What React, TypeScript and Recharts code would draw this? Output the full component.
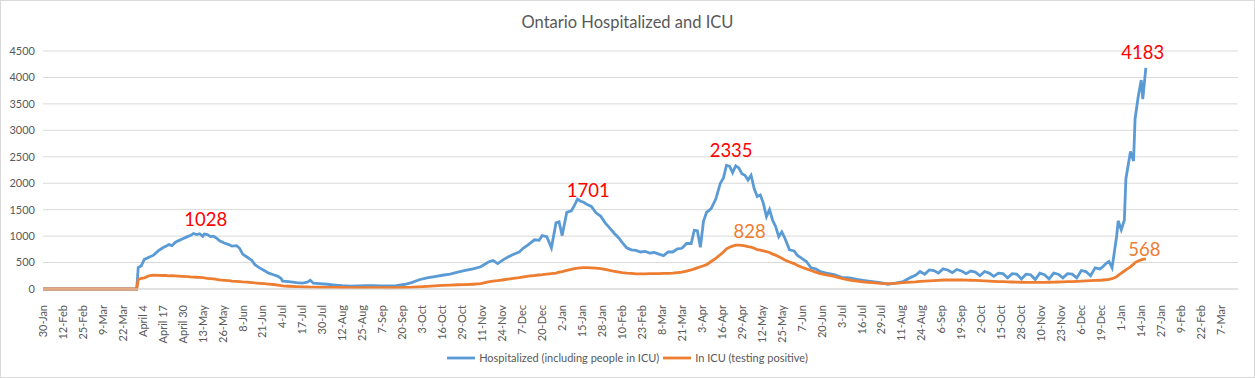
import React from 'react';
import { LineChart, Line, XAxis, YAxis, CartesianGrid, ReferenceDot } from 'recharts';

// Day index: 0 = 30-Jan-2020
const dayIndex = [
  0, 61, 62, 64, 66, 69, 72, 75, 78, 80, 82, 84, 86, 88, 91, 94, 96, 98, 100, 102,
  104, 105, 107, 109, 111, 113, 115, 118, 121, 123, 126, 128, 130, 133, 136, 138, 141, 144, 147, 150,
  153, 155, 156, 160, 165, 169, 172, 174, 176, 180, 185, 190, 195, 200, 205, 210, 215, 220, 225, 230,
  235, 240, 245, 250, 255, 260, 265, 270, 275, 280, 285, 290, 293, 296, 300, 305, 310, 313, 316, 320,
  323, 325, 328, 331, 334, 336, 338, 341, 344, 346, 348, 350, 352, 354, 357, 360, 363, 366, 369, 372,
  375, 377, 380, 383, 386, 389, 392, 395, 398, 401, 404, 407, 410, 413, 416, 419, 422, 424, 426, 428,
  430, 432, 435, 438, 441, 443, 445, 447, 449, 451, 453, 455, 457, 459, 461, 463, 465, 467, 469, 471,
  473, 475, 477, 479, 481, 483, 486, 489, 491, 494, 497, 500, 503, 506, 510, 515, 520, 525, 530, 535,
  540, 545, 550, 555, 560, 565, 568, 571, 574, 577, 580, 583, 586, 589, 592, 595, 598, 601, 604, 607,
  610, 613, 616, 619, 622, 625, 628, 631, 634, 637, 640, 643, 646, 649, 652, 655, 658, 661, 664, 667,
  670, 673, 676, 679, 682, 685, 688, 690, 692, 694, 696, 699, 700, 702, 704, 705, 708, 710, 711, 713,
  715, 716, 718,
];

const hospitalized = [
  0, 0, 405, 440, 560, 600, 640, 720, 780, 810, 840, 820, 880, 910, 950, 990, 1010, 1050, 1030, 1045,
  995, 1040, 1030, 990, 1000, 960, 910, 870, 840, 810, 820, 770, 660, 600, 540, 460, 400, 350, 300, 270,
  240, 200, 150, 140, 120, 110, 130, 165, 110, 100, 90, 75, 62, 55, 58, 62, 65, 60, 58, 65,
  85, 120, 175, 210, 235, 260, 280, 320, 350, 380, 420, 510, 540, 480, 560, 640, 700, 780, 840, 930,
  920, 1010, 990, 780, 1250, 1270, 1010, 1450, 1480, 1580, 1701, 1660, 1640, 1600, 1560, 1440, 1380, 1250, 1150, 1050,
  960, 880, 780, 740, 730, 700, 710, 680, 690, 660, 630, 700, 700, 760, 770, 860, 860, 1110, 1100, 790,
  1280, 1450, 1520, 1700, 2000, 2100, 2340, 2320, 2200, 2330, 2290, 2180, 2150, 2060, 2150, 1900, 1750, 1780, 1620, 1370,
  1500, 1300, 1180, 990, 1080, 960, 740, 720, 640, 580, 520, 400, 380, 330, 300, 270, 220, 210, 180, 160,
  140, 120, 90, 110, 140, 220, 260, 330, 280, 360, 350, 300, 380, 360, 310, 370, 340, 290, 340, 320,
  250, 330, 300, 240, 300, 290, 210, 290, 280, 190, 280, 270, 180, 300, 270, 190, 300, 280, 210, 290,
  280, 210, 350, 330, 250, 400, 380, 420, 480, 520, 400, 1000, 1290, 1120, 1300, 2080, 2600, 2420, 3220, 3630,
  3950, 3590, 4183,
];

const icu = [
  0, 0, 180, 200, 210, 250, 262, 258, 255, 255, 250, 252, 248, 245, 240, 235, 228, 225, 222, 220,
  215, 210, 202, 196, 190, 180, 172, 165, 158, 150, 145, 140, 135, 130, 122, 115, 108, 100, 92, 85,
  75, 65, 58, 52, 46, 40, 38, 36, 35, 33, 32, 30, 28, 27, 26, 26, 27, 25, 24, 25,
  28, 33, 42, 50, 60, 70, 75, 80, 82, 90, 100, 135, 150, 160, 175, 195, 215, 230, 245, 255,
  265, 270, 280, 290, 300, 320, 330, 350, 370, 385, 395, 400, 405, 405, 400, 395, 385, 370, 350, 335,
  320, 310, 300, 295, 285, 285, 285, 290, 290, 290, 295, 295, 300, 310, 320, 340, 360, 380, 400, 420,
  440, 460, 520, 580, 650, 700, 760, 790, 810, 828, 828, 825, 815, 800, 790, 770, 745, 735, 720, 705,
  690, 660, 640, 610, 580, 550, 510, 480, 450, 410, 380, 350, 320, 290, 265, 240, 200, 170, 150, 130,
  120, 108, 100, 105, 120, 130, 135, 145, 150, 155, 160, 165, 170, 172, 170, 172, 170, 168, 165, 162,
  160, 155, 150, 145, 140, 138, 135, 132, 130, 128, 126, 125, 125, 125, 126, 128, 130, 132, 135, 138,
  140, 145, 150, 155, 158, 162, 165, 170, 175, 180, 195, 230, 260, 300, 340, 360, 420, 470, 500, 530,
  550, 560, 568,
];

const tickDays = [
  0, 13, 26, 39, 52, 65, 78, 91, 104, 117, 130, 143, 156, 169, 182, 195, 208, 221, 234, 247,
  260, 273, 286, 299, 312, 325, 338, 351, 364, 377, 390, 403, 416, 429, 442, 455, 468, 481, 494, 507,
  520, 533, 546, 559, 572, 585, 598, 611, 624, 637, 650, 663, 676, 689, 702, 715, 728, 741, 754, 767,
];

const tickLabels = [
  '30-Jan', '12-Feb', '25-Feb', '9-Mar', '22-Mar', 'April 4', 'April 17', 'April 30', '13-May', '26-May',
  '8-Jun', '21-Jun', '4-Jul', '17-Jul', '30-Jul', '12-Aug', '25-Aug', '7-Sep', '20-Sep', '3-Oct',
  '16-Oct', '29-Oct', '11-Nov', '24-Nov', '7-Dec', '20-Dec', '2-Jan', '15-Jan', '28-Jan', '10-Feb',
  '23-Feb', '8-Mar', '21-Mar', '3-Apr', '16-Apr', '29-Apr', '12-May', '25-May', '7-Jun', '20-Jun',
  '3-Jul', '16-Jul', '29-Jul', '11-Aug', '24-Aug', '6-Sep', '19-Sep', '2-Oct', '15-Oct', '28-Oct',
  '10-Nov', '23-Nov', '6-Dec', '19-Dec', '1-Jan', '14-Jan', '27-Jan', '9-Feb', '22-Feb', '7-Mar',
];

const yTicks = [0, 500, 1000, 1500, 2000, 2500, 3000, 3500, 4000, 4500];

// Peak annotations: the day the label sits over, its value, and which series it belongs to
const peakDays = [106, 355, 448, 460, 716, 717];
const peakValues = [1028, 1701, 2335, 828, 4183, 568];
const peakSeries = ['hosp', 'hosp', 'hosp', 'icu', 'hosp', 'icu'];

// label styling (distance above the anchor point, px)
const peakOffsets = [9, 2, 9, 7, 9, 3];

const data = dayIndex.map((d, i) => ({ day: d, hosp: hospitalized[i], icu: icu[i] }));

const BLUE = '#5b9bd5';
const ORANGE = '#ed7d31';
const FONT = 'Lato, "Open Sans", sans-serif';
const labelMap: Record<number, string> = {};
tickDays.forEach((d, i) => (labelMap[d] = tickLabels[i]));

const XTick = (props: any) => {
  const { x, y, payload } = props;
  return (
    <text
      x={x}
      y={y + 8}
      transform={`rotate(-90 ${x} ${y + 8})`}
      textAnchor="end"
      dy="0.35em"
      fontSize={11}
      fontFamily={FONT}
      fill="#595959"
    >
      {labelMap[payload.value]}
    </text>
  );
};

export default function App() {
  return (
    <div
      style={{
        position: 'absolute',
        left: 0,
        top: 0,
        width: 1255,
        height: 378,
        background: '#fff',
        boxSizing: 'border-box',
        border: '1px solid #d9d9d9',
        fontFamily: FONT,
      }}
    >
      <div
        style={{
          position: 'absolute',
          top: 11,
          left: 0,
          width: 1253,
          textAlign: 'center',
          fontSize: 16.5,
          color: '#595959',
        }}
      >
        Ontario Hospitalized and ICU
      </div>
      <div style={{ position: 'absolute', left: -1, top: -1 }}>
        <LineChart
          width={1255}
          height={378}
          data={data}
          margin={{ top: 51, right: 17, bottom: 49, left: 3 }}
        >
          <CartesianGrid vertical={false} stroke="#d9d9d9" />
          <XAxis
            dataKey="day"
            type="number"
            domain={[0, 778]}
            ticks={tickDays}
            interval={0}
            tick={<XTick />}
            tickLine={false}
            axisLine={{ stroke: '#d9d9d9' }}
            height={40}
            allowDataOverflow
          />
          <YAxis
            type="number"
            domain={[0, 4500]}
            ticks={yTicks}
            interval={0}
            width={40}
            tickLine={false}
            axisLine={false}
            tick={{ fontSize: 11, fill: '#595959', fontFamily: FONT }}
          />
          <Line
            type="linear"
            dataKey="hosp"
            stroke={BLUE}
            strokeWidth={2.8}
            dot={false}
            isAnimationActive={false}
          />
          <Line
            type="linear"
            dataKey="icu"
            stroke={ORANGE}
            strokeWidth={2.8}
            dot={false}
            isAnimationActive={false}
          />
          {peakDays.map((d, i) => {
            const isHosp = peakSeries[i] === 'hosp';
            return (
              <ReferenceDot
                key={i}
                x={d}
                y={peakValues[i]}
                r={0}
                fill="none"
                stroke="none"
                label={{
                  value: String(peakValues[i]),
                  position: 'top',
                  offset: peakOffsets[i],
                  fill: isHosp ? '#ff0000' : ORANGE,
                  fontSize: 18.5,
                  fontFamily: FONT,
                }}
              />
            );
          })}
        </LineChart>
      </div>
      <div
        style={{
          position: 'absolute',
          top: 350,
          left: 0,
          width: 1253,
          display: 'flex',
          justifyContent: 'center',
          alignItems: 'center',
          fontSize: 11,
          color: '#595959',
        }}
      >
        <svg width={28} height={6} style={{ marginRight: 4 }}>
          <line x1={0} y1={3} x2={28} y2={3} stroke={BLUE} strokeWidth={2.8} />
        </svg>
        <span style={{ marginRight: 4 }}>Hospitalized (including people in ICU)</span>
        <svg width={28} height={6} style={{ marginRight: 4 }}>
          <line x1={0} y1={3} x2={28} y2={3} stroke={ORANGE} strokeWidth={2.8} />
        </svg>
        <span>In ICU (testing positive)</span>
      </div>
    </div>
  );
}
